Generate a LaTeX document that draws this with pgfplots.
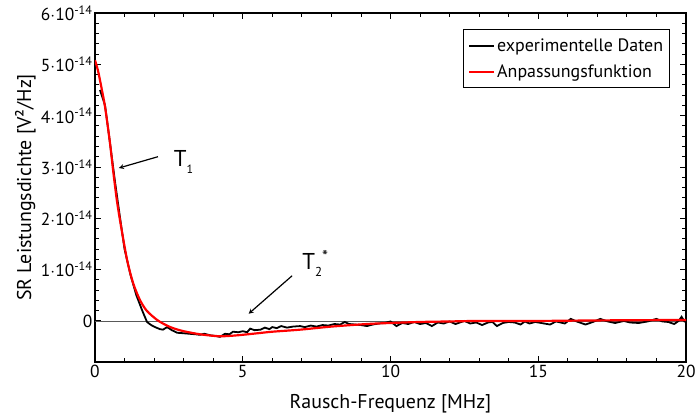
\documentclass[border=0pt]{standalone}
\usepackage{fontspec}
\setmainfont{PT Sans}
\usepackage{pgfplots}
\pgfplotsset{compat=1.18}
\begin{document}
\begin{tikzpicture}
\begin{axis}[
  scale only axis,
  width=591bp, height=349bp,
  xmin=0, xmax=20, ymin=-0.8, ymax=6,
  xtick={0,5,10,15,20},
  minor x tick num=4,
  ytick={0,1,2,3,4,5,6},
  yticklabels={0, 1$\cdot$10\textsuperscript{-14}, 2$\cdot$10\textsuperscript{-14}, 3$\cdot$10\textsuperscript{-14}, 4$\cdot$10\textsuperscript{-14}, 5$\cdot$10\textsuperscript{-14}, 6$\cdot$10\textsuperscript{-14}},
  minor y tick num=4,
  tick align=inside,
  major tick length=6bp, minor tick length=4bp,
  every tick/.style={black, line width=0.9pt},
  axis line style={line width=1.2pt},
  tick label style={font=\fontsize{17.5}{20}\selectfont},
  yticklabel style={xshift=1bp},
  /pgf/number format/assume math mode=true,
  xlabel={Rausch-Frequenz [MHz]},
  ylabel={SR Leistungsdichte [V²/Hz]},
  label style={font=\fontsize{20}{24}\selectfont},
  xlabel style={at={(axis description cs:0.5,-0.132)}, anchor=base},
  ylabel style={at={(axis description cs:-0.118,0.5)}, anchor=center},
  legend style={at={(0.973,0.954)}, anchor=north east, draw=black, line width=0.8pt,
    font=\fontsize{18}{21}\selectfont, inner xsep=4.5bp, inner ysep=7bp, row sep=8bp},
  legend cell align=left,
  legend image code/.code={\draw[#1, line width=2pt] (0bp,0bp) -- (25bp,0bp);},
  clip=true,
]
\addplot[gray!70!black, line width=0.8pt, forget plot] coordinates {(0,0) (20,0)};
\addplot[black, line width=1.8pt] coordinates {
(0.17,4.5) (0.34,4.2) (0.5,3.5) (0.68,2.7) (0.85,2.0) (1.0,1.4) (1.2,0.9) (1.4,0.5) (1.6,0.2)
(1.76,-0.02) (1.9,-0.08) (2.03,-0.12) (2.2,-0.16) (2.3,-0.17) (2.44,-0.12) (2.6,-0.18) (2.78,-0.23)
(3.0,-0.24) (3.2,-0.25) (3.4,-0.26) (3.55,-0.27) (3.7,-0.25) (3.9,-0.28) (4.05,-0.29) (4.23,-0.31)
(4.4,-0.25) (4.55,-0.26) (4.67,-0.21) (4.85,-0.22) (5.0,-0.2) (5.15,-0.22) (5.25,-0.15) (5.4,-0.18)
(5.6,-0.17) (5.75,-0.13) (5.9,-0.16) (6.0,-0.12) (6.15,-0.14) (6.3,-0.1) (6.5,-0.13) (6.7,-0.11)
(6.94,-0.1) (7.1,-0.12) (7.3,-0.09) (7.5,-0.11) (7.7,-0.08) (7.9,-0.09) (8.1,-0.06) (8.3,-0.07)
(8.45,-0.02) (8.6,-0.06) (8.8,-0.07) (9.0,-0.08) (9.2,-0.1) (9.4,-0.07) (9.6,-0.05) (9.8,-0.04)
(10.0,-0.01) (10.2,-0.1) (10.4,-0.04) (10.6,-0.06) (10.8,-0.02) (11.0,-0.06) (11.2,-0.04) (11.4,-0.1)
(11.6,-0.03) (11.8,-0.05) (12.0,-0.01) (12.2,-0.06) (12.5,0.0) (12.7,-0.05) (12.9,-0.03) (13.1,-0.08)
(13.3,-0.03) (13.45,-0.02) (13.6,-0.1) (13.8,-0.04) (14.0,-0.02) (14.2,-0.03) (14.4,-0.07) (14.55,-0.01)
(14.7,-0.05) (14.9,-0.02) (15.1,-0.04) (15.4,-0.07) (15.6,-0.01) (15.9,-0.05) (16.1,0.04) (16.3,-0.01)
(16.6,-0.07) (16.85,-0.02) (17.1,0.04) (17.35,-0.01) (17.6,-0.04) (17.9,0.0) (18.1,-0.03) (18.4,-0.04)
(18.7,-0.01) (19.0,0.04) (19.2,-0.01) (19.4,-0.02) (19.6,-0.06) (19.75,0.0) (19.85,0.08) (19.95,-0.01) (20,0.0)
};
\addlegendentry{experimentelle Daten}
\addplot[red, line width=2.2pt, smooth] coordinates {
(0,5.08) (0.1,4.88) (0.2,4.6) (0.34,4.17) (0.5,3.5) (0.62,2.9) (0.74,2.35) (0.85,1.95) (1.0,1.45)
(1.12,1.1) (1.3,0.72) (1.52,0.41) (1.75,0.2) (2.1,0.02) (2.4,-0.08) (2.64,-0.14) (3.0,-0.2)
(3.55,-0.26) (4.0,-0.29) (4.23,-0.3) (4.6,-0.29) (5.0,-0.27) (5.5,-0.24) (6.0,-0.21) (6.94,-0.17)
(8.0,-0.11) (9.2,-0.06) (10.0,-0.04) (11,-0.02) (12,-0.01) (13,0) (15,0) (17,0.01) (20,0.02)
};
\addlegendentry{Anpassungsfunktion}
\draw[-stealth, line width=1.2pt] (axis cs:2.13,3.2) -- (axis cs:0.81,2.98);
\node[font=\fontsize{23}{24}\selectfont, anchor=base west] at (axis cs:2.55,3.0) {T\raisebox{-7bp}{\fontsize{12}{12}\selectfont 1}};
\draw[-stealth, line width=1.2pt] (axis cs:6.67,0.88) -- (axis cs:5.2,0.14);
\node[font=\fontsize{23}{24}\selectfont, anchor=base west] at (axis cs:6.9,1.0) {T\raisebox{-7bp}{\fontsize{13}{13}\selectfont 2}\raisebox{7bp}{\fontsize{17}{17}\selectfont *}};
\end{axis}
\path (current axis.south west) ++(-95bp,-53bp) coordinate (bbA);
\path (current axis.north east) ++(13bp,13bp) coordinate (bbB);
\path (bbA) rectangle (bbB);
\end{tikzpicture}
\end{document}
